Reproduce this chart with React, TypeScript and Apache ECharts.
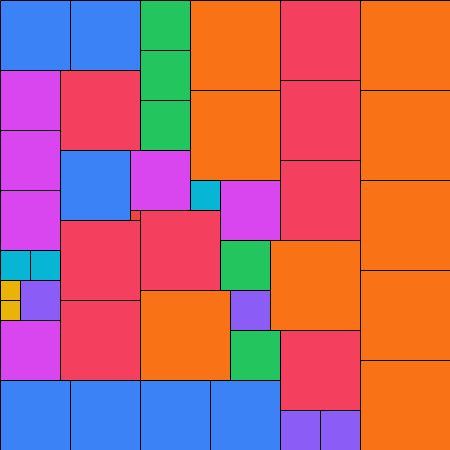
import React, { useEffect, useRef } from "react";
import * as echarts from "echarts";

// Square packing: left x, top y, side length (in layout units, 0..450)
const squareX = [0, 70, 140, 140, 140, 190, 190, 280, 280, 280, 360, 360, 360, 360, 360, 0, 0, 0, 60, 60, 130, 130, 140, 60, 0, 30, 0, 0, 20, 0, 60, 0, 70, 140, 210, 190, 220, 140, 220, 230, 230, 270, 280, 280, 320];
const squareY = [0, 0, 0, 50, 100, 0, 90, 0, 80, 160, 0, 90, 180, 270, 360, 70, 130, 190, 70, 150, 150, 210, 210, 220, 250, 250, 280, 300, 280, 320, 300, 380, 380, 380, 380, 180, 180, 290, 240, 290, 330, 240, 330, 410, 410];
const squareSize = [70, 70, 50, 50, 50, 90, 90, 80, 80, 80, 90, 90, 90, 90, 90, 60, 60, 60, 80, 70, 60, 10, 80, 80, 30, 30, 20, 20, 40, 60, 80, 70, 70, 70, 70, 30, 60, 90, 50, 40, 50, 90, 80, 40, 40];

const sizeColors: Record<number, string> = {
  10: "#ef4444",
  20: "#eab308",
  30: "#06b6d4",
  40: "#8b5cf6",
  50: "#22c55e",
  60: "#d946ef",
  70: "#3b82f6",
  80: "#f43f5e",
  90: "#f97316",
};

export default function App() {
  const ref = useRef<HTMLDivElement>(null);
  useEffect(() => {
    if (!ref.current) return;
    const chart = echarts.init(ref.current, undefined, { renderer: "svg" });
    const data = squareSize.map((s, i) => [squareX[i], squareY[i], s]);
    chart.setOption({
      animation: false,
      grid: { left: 0, right: 0, top: 0, bottom: 0 },
      xAxis: { type: "value", min: 0, max: 450, show: false },
      yAxis: { type: "value", min: 0, max: 450, inverse: true, show: false },
      series: [
        {
          type: "custom",
          data,
          renderItem: (params: any, api: any) => {
            const x = api.value(0);
            const y = api.value(1);
            const s = api.value(2);
            const p0 = api.coord([x, y]);
            const p1 = api.coord([x + s, y + s]);
            return {
              type: "rect",
              shape: {
                x: p0[0] + 0.5,
                y: p0[1] + 0.5,
                width: p1[0] - p0[0],
                height: p1[1] - p0[1],
              },
              style: {
                fill: sizeColors[s] || "#888",
                stroke: "#000",
                lineWidth: 1,
              },
            };
          },
        },
      ],
    });
    return () => chart.dispose();
  }, []);
  return (
    <div
      ref={ref}
      style={{ position: "fixed", left: 0, top: 0, width: 450, height: 450 }}
    />
  );
}
